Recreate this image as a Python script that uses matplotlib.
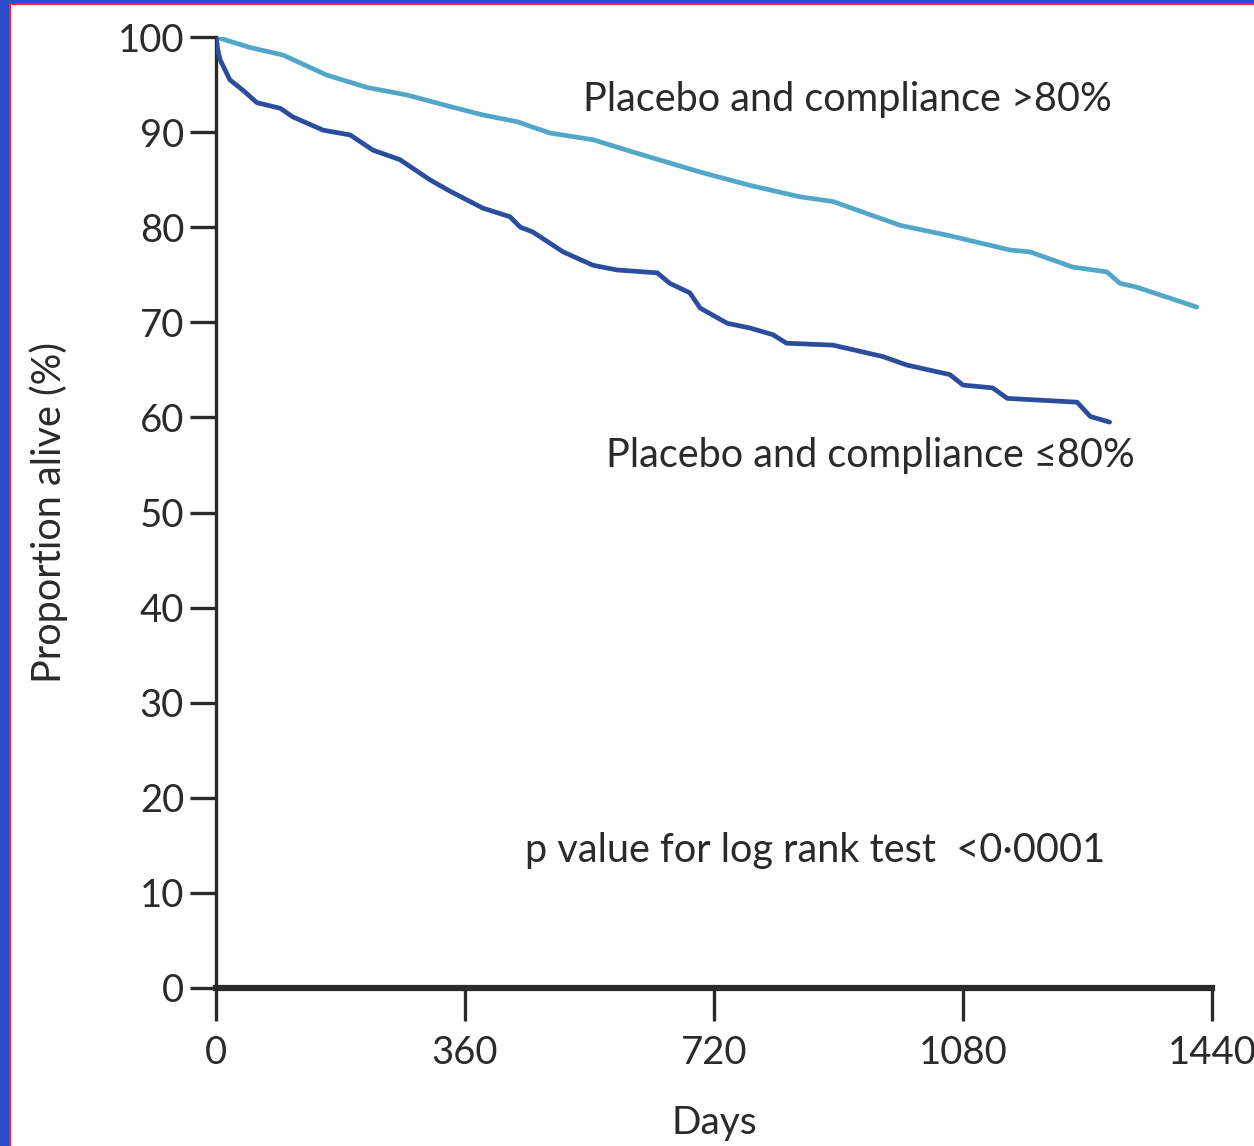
import numpy as np
import matplotlib
matplotlib.use('Agg')
import matplotlib.pyplot as plt
from matplotlib.patches import Rectangle

plt.rcParams['font.family'] = ['Lato', 'DejaVu Sans']

# Kaplan-Meier curves (days, % alive)
days_high = [0, 49, 97, 160, 218, 276, 338, 386, 435, 483, 545, 603, 700, 772, 844,
             892, 989, 1061, 1148, 1177, 1239, 1288, 1307, 1331, 1418]
alive_high = [100, 98.9, 98.1, 96.0, 94.7, 93.9, 92.7, 91.8, 91.1, 89.9, 89.2, 87.9,
              85.8, 84.4, 83.2, 82.7, 80.2, 79.1, 77.6, 77.4, 75.8, 75.3, 74.1, 73.7, 71.6]

days_low = [0, 3, 6, 20, 39, 59, 93, 111, 155, 194, 227, 266, 309, 338, 386, 425, 440,
            458, 502, 545, 580, 638, 656, 685, 700, 739, 772, 805, 825, 892, 964, 999,
            1061, 1080, 1123, 1144, 1245, 1264, 1292]
alive_low = [100, 98.5, 97.6, 95.5, 94.4, 93.1, 92.5, 91.6, 90.2, 89.7, 88.1, 87.1, 85.0,
             83.8, 82.0, 81.1, 80.0, 79.5, 77.4, 76.0, 75.5, 75.2, 74.1, 73.1, 71.5, 69.9,
             69.4, 68.7, 67.8, 67.6, 66.4, 65.5, 64.5, 63.4, 63.1, 62.0, 61.6, 60.1, 59.5]

xticks = [0, 360, 720, 1080, 1440]
yticks = list(range(0, 101, 10))

light = '#52a7c9'
dark = '#2a4d9c'
ink = '#2a2a2a'

fig = plt.figure(figsize=(12.54, 11.46), dpi=100)
ax = fig.add_axes([216/1254, 1 - 988/1146, (1212-216)/1254, (988-37)/1146])

ax.plot(days_high, alive_high, color=light, lw=3.4, solid_capstyle='round', zorder=3)
ax.plot(days_low, alive_low, color=dark, lw=3.4, solid_capstyle='round', zorder=3)

ax.set_xlim(0, 1440)
ax.set_ylim(0, 100)
for s in ['top', 'right']:
    ax.spines[s].set_visible(False)
ax.spines['left'].set_linewidth(2.4)
ax.spines['bottom'].set_linewidth(4.5)
ax.spines['left'].set_color(ink)
ax.spines['bottom'].set_color(ink)

ax.set_xticks(xticks)
ax.set_yticks(yticks)
ax.tick_params(axis='y', direction='out', length=19, width=2.4, pad=4,
               labelsize=27.5, colors=ink)
ax.tick_params(axis='x', direction='out', length=24, width=2.4, pad=10,
               labelsize=27.5, colors=ink)

ax.set_ylabel('Proportion alive (%)', fontsize=28.5, color=ink, labelpad=36)
ax.set_xlabel('Days', fontsize=28, color=ink, labelpad=24)

ax.text(531, 93.4, 'Placebo and compliance >80%', fontsize=28.5, color=ink,
        va='center', ha='left')
ax.text(564, 56.0, 'Placebo and compliance \u226480%', fontsize=28.5, color=ink,
        va='center', ha='left')
ax.text(447, 14.5, 'p value for log rank test  <0\u00b70001', fontsize=28.5, color=ink,
        va='center', ha='left')

# frame of the screenshot
fig.add_artist(Rectangle((0, 0), 9/1254, 1, transform=fig.transFigure,
                         color='#2c4bcc', lw=0, zorder=10))
fig.add_artist(Rectangle((0, 1 - 3/1146), 1, 3/1146, transform=fig.transFigure,
                         color='#2c4bcc', lw=0, zorder=10))
fig.add_artist(Rectangle((9/1254, 0), 2/1254, 1 - 3/1146, transform=fig.transFigure,
                         color='#ff2020', lw=0, zorder=10))
fig.add_artist(Rectangle((9/1254, 1 - 5/1146), 1, 2/1146, transform=fig.transFigure,
                         color='#ff2020', lw=0, zorder=10))

fig.savefig('out.png', dpi=100)
